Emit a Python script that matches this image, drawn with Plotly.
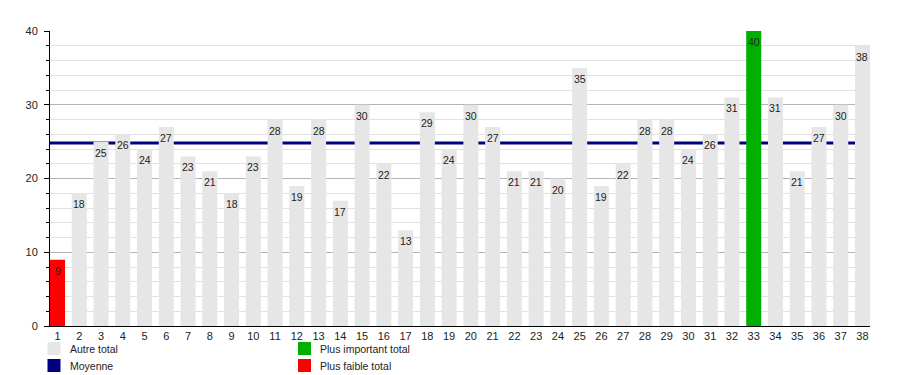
import plotly.graph_objects as go

categories = list(range(1, 39))
values = [9, 18, 25, 26, 24, 27, 23, 21, 18, 23, 28, 19, 28, 17, 30, 22, 13, 29, 24, 30,
          27, 21, 21, 20, 35, 19, 22, 28, 28, 24, 26, 31, 40, 31, 21, 27, 30, 38]
legend_labels = ["Autre total", "Moyenne", "Plus important total", "Plus faible total"]

GRAY = "#e6e6e6"
NAVY = "#000080"
GREEN = "#00b000"
RED = "#ff0000"
FONT = "Liberation Sans, Arial, sans-serif"

vmax, vmin = max(values), min(values)
mean = sum(values) / len(values)
colors = [GREEN if v == vmax else RED if v == vmin else GRAY for v in values]

W, H = 900, 375
L, R, T, B = 50, 30, 31, 49
PW, PH = W - L - R, H - T - B
BW = 0.69

fig = go.Figure()
fig.add_trace(go.Bar(
    x=categories, y=values, width=BW,
    marker=dict(color=colors, line=dict(width=0)),
    showlegend=False, hoverinfo="x+y",
))

shapes = [dict(type="line", xref="paper", yref="y", x0=0, x1=1, y0=mean, y1=mean,
               line=dict(color=NAVY, width=3), layer="between")]

def px_x(px):
    return (px - L) / PW

def px_y(py):
    return (H - B - py) / PH

annotations = []
for c, v in zip(categories, values):
    annotations.append(dict(x=c, y=v, xref="x", yref="y", text=str(v), showarrow=False,
                            xanchor="center", yanchor="top", yshift=-3,
                            font=dict(family=FONT, size=10.5, color="#222222")))

legend_items = [
    (legend_labels[0], GRAY, 47.5, 342),
    (legend_labels[1], NAVY, 47.5, 359),
    (legend_labels[2], GREEN, 298, 342),
    (legend_labels[3], RED, 298, 359),
]
for name, col, sx, sy in legend_items:
    shapes.append(dict(type="rect", xref="paper", yref="paper",
                       x0=px_x(sx), x1=px_x(sx + 13), y0=px_y(sy + 13), y1=px_y(sy),
                       fillcolor=col, line=dict(width=0)))
    annotations.append(dict(xref="paper", yref="paper", x=px_x(sx + 20), y=px_y(sy + 7),
                            text=name, showarrow=False, xanchor="left", yanchor="middle",
                            font=dict(family=FONT, size=10.5, color="#222222")))

fig.update_layout(
    width=W, height=H,
    margin=dict(l=L, r=R, t=T, b=B, pad=0),
    paper_bgcolor="white", plot_bgcolor="white",
    bargap=0.3,
    shapes=shapes, annotations=annotations,
    xaxis=dict(range=[1 - BW / 2, 38 + BW / 2], tickmode="array", tickvals=categories,
               ticktext=[str(c) for c in categories], showgrid=False, zeroline=False,
               showline=True, linecolor="black", linewidth=1, ticks="",
               tickfont=dict(family=FONT, size=11, color="#222222")),
    yaxis=dict(range=[0, 40], dtick=10, tick0=0, showgrid=True, gridcolor="#b4b4b4",
               gridwidth=1, zeroline=False, showline=True, linecolor="black", linewidth=1,
               ticks="outside", ticklen=5, tickcolor="black", ticklabelstandoff=4,
               tickfont=dict(family=FONT, size=11, color="#222222"),
               minor=dict(dtick=2, showgrid=True, gridcolor="#e2e2e2", ticks="outside",
                          ticklen=3, tickcolor="black")),
    font=dict(family=FONT),
)

fig.write_html("out.html", config={"displayModeBar": False},
               post_script="document.body.style.margin='0';document.body.style.overflow='hidden';")
